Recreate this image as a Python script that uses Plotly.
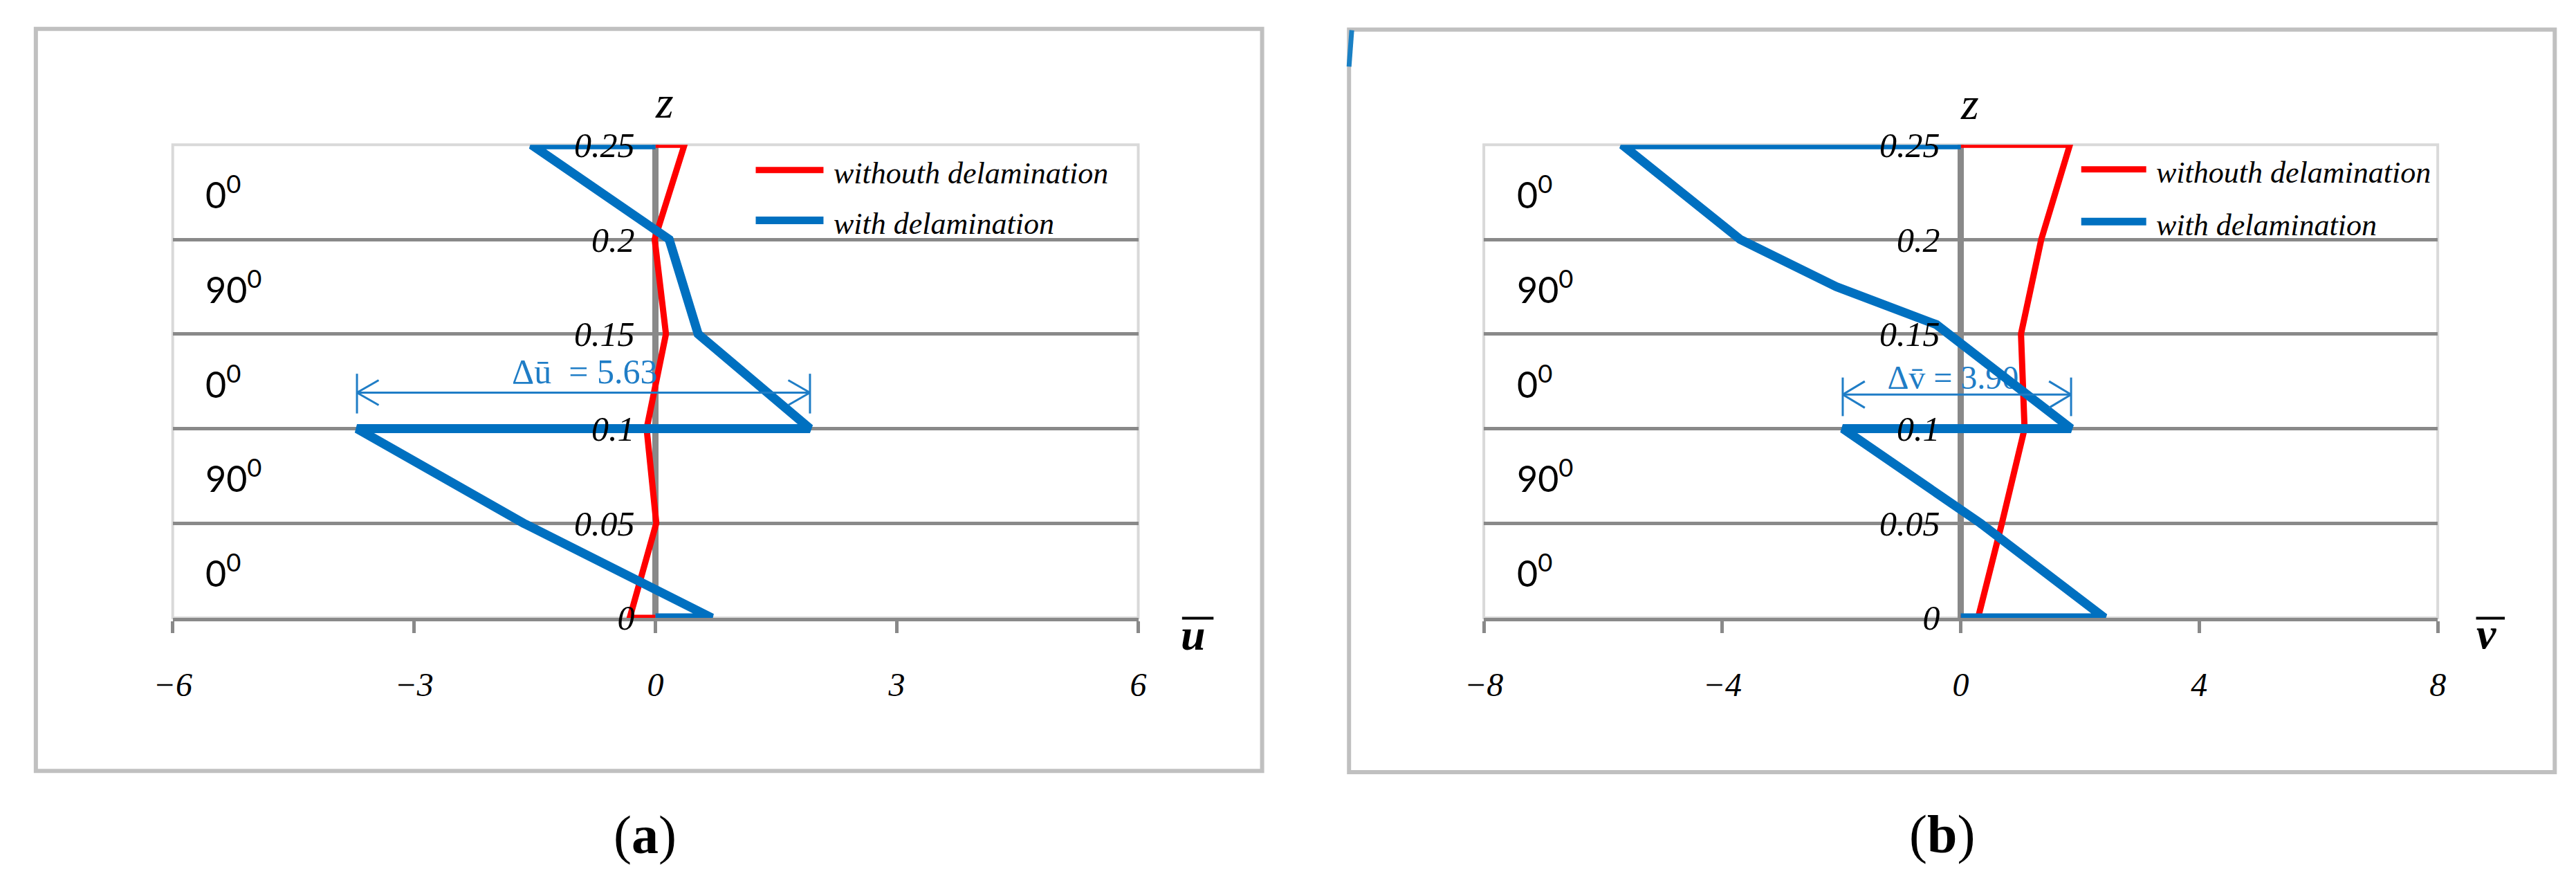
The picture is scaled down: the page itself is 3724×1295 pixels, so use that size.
import plotly.graph_objects as go

W, H = 3724, 1295
PAGE_MARGIN = 8  # default body margin of the html page

# ---------------- data ----------------
z_levels = [0, 0.05, 0.1, 0.15, 0.2, 0.25]
ply_angles = ["0", "90", "0", "90", "0"]          # bottom ply -> top ply
series_names = ["withouth delamination", "with delamination"]

# panel (a): u-bar through thickness
u_wo_z = [0, 0, 0.05, 0.1, 0.15, 0.2, 0.25, 0.25]
u_wo = [0, -0.32, 0.01, -0.11, 0.13, -0.01, 0.36, 0]
u_w_z = [0, 0, 0.05, 0.1, 0.1, 0.15, 0.2, 0.25, 0.25]
u_w = [0, 0.70, -1.64, -3.71, 1.92, 0.53, 0.17, -1.54, 0]

# panel (b): v-bar through thickness
v_wo_z = [0, 0, 0.05, 0.1, 0.15, 0.2, 0.25, 0.25]
v_wo = [0, 0.29, 0.69, 1.07, 1.01, 1.35, 1.83, 0]
v_w_z = [0, 0, 0.05, 0.1, 0.1, 0.15, 0.155, 0.175, 0.2, 0.25, 0.25]
v_w = [0, 2.41, 0.33, -1.98, 1.85, -0.19, -0.41, -2.09, -3.70, -5.68, 0]

u_ticks = [-6, -3, 0, 3, 6]
v_ticks = [-8, -4, 0, 4, 8]
z_ticks = [0, 0.05, 0.1, 0.15, 0.2, 0.25]
z_ticktext = ["0", "0.05", "0.1", "0.15", "0.2", "0.25"]
delta_u_text = "Δū  = 5.63"
delta_v_text = "Δv\u0304 = 3.90"

# ---------------- style ----------------
RED = "#FF0000"
BLUE = "#0070C0"
ABLUE = "#1F7DC6"
GRID = "#898989"
SERIF = "Liberation Serif"
SANS = "Lato"


def px(x):
    return (x - PAGE_MARGIN) / W


def py(y):
    return 1 - (y - PAGE_MARGIN) / H


XA = [px(224), px(1635)]
XB = [px(2140), px(3534)]
YD = [py(904), py(190)]


def tick_text(v):
    return ("\u2212" + str(abs(v))) if v < 0 else str(v)


fig = go.Figure()

# panel a traces
fig.add_trace(go.Scatter(x=u_wo, y=u_wo_z, mode="lines", name=series_names[0],
                         line=dict(color=RED, width=9), xaxis="x", yaxis="y",
                         showlegend=False, hoverinfo="skip"))
fig.add_trace(go.Scatter(x=[-0.88], y=[0.1285], mode="text", text=[delta_u_text],
                         textfont=dict(family=SERIF, size=50, color=ABLUE),
                         xaxis="x", yaxis="y", showlegend=False, hoverinfo="skip"))
fig.add_trace(go.Scatter(x=u_w, y=u_w_z, mode="lines", name=series_names[1],
                         line=dict(color=BLUE, width=13), xaxis="x", yaxis="y",
                         showlegend=False, hoverinfo="skip"))

# panel b traces
fig.add_trace(go.Scatter(x=v_wo, y=v_wo_z, mode="lines", name=series_names[0],
                         line=dict(color=RED, width=9), xaxis="x2", yaxis="y2",
                         showlegend=False, hoverinfo="skip"))
fig.add_trace(go.Scatter(x=[-0.13], y=[0.1255], mode="text", text=[delta_v_text],
                         textfont=dict(family=SERIF, size=48, color=ABLUE),
                         xaxis="x2", yaxis="y2", showlegend=False, hoverinfo="skip"))
fig.add_trace(go.Scatter(x=v_w, y=v_w_z, mode="lines", name=series_names[1],
                         line=dict(color=BLUE, width=13), xaxis="x2", yaxis="y2",
                         showlegend=False, hoverinfo="skip"))


def xaxis_cfg(domain, rng, ticks, anchor):
    return dict(domain=domain, range=rng, anchor=anchor,
                tickmode="array", tickvals=ticks, ticktext=[tick_text(t) for t in ticks],
                showgrid=False, zeroline=True, zerolinecolor=GRID, zerolinewidth=9,
                showline=True, linecolor=GRID, linewidth=5,
                ticks="outside", ticklen=17, tickwidth=5, tickcolor=GRID,
                tickfont=dict(family=SERIF, size=48, color="black", style="italic"),
                ticklabelstandoff=33, fixedrange=True)


def yaxis_cfg(position):
    return dict(domain=YD, range=[0, 0.25], anchor="free", position=position, side="left",
                tickmode="array", tickvals=z_ticks, ticktext=z_ticktext,
                showgrid=False, zeroline=False, showline=False, ticks="",
                ticklabelstandoff=30,
                tickfont=dict(family=SERIF, size=50, color="black", style="italic"),
                minor=dict(tickmode="array", tickvals=z_ticks[1:-1], showgrid=True,
                           gridcolor=GRID, gridwidth=5),
                fixedrange=True)


zero_a = XA[0] + (0 - (-6)) / 12 * (XA[1] - XA[0])
zero_b = XB[0] + (0 - (-8)) / 16 * (XB[1] - XB[0])

shapes = []
annotations = []

# outer panel frames
for (x0, y0, x1, y1) in [(24, 15, 1816, 1135), (1943, 16, 3705, 1137)]:
    shapes.append(dict(type="rect", xref="paper", yref="paper", x0=px(x0), x1=px(x1),
                       y0=py(y1), y1=py(y0), line=dict(color="#C0C0C0", width=6),
                       layer="below"))
# stray blue tick at top-left of panel b
shapes.append(dict(type="line", xref="paper", yref="paper", x0=px(1947), y0=py(17),
                   x1=px(1943), y1=py(72), line=dict(color="#1A80C4", width=7)))

# plot area borders (light)
for xr, yr in [("x", "y"), ("x2", "y2")]:
    shapes.append(dict(type="rect", xref=xr + " domain", yref=yr + " domain",
                       x0=0, x1=1, y0=0, y1=1, line=dict(color="#D9D9D9", width=4),
                       layer="below"))


def delta_arrow(xr, yr, xl, xrt, ya, ylo, yhi, dx, dy):
    ln = dict(color=ABLUE, width=3)
    out = [dict(type="line", xref=xr, yref=yr, x0=xl, x1=xrt, y0=ya, y1=ya, line=ln),
           dict(type="line", xref=xr, yref=yr, x0=xl, x1=xl, y0=ylo, y1=yhi, line=ln),
           dict(type="line", xref=xr, yref=yr, x0=xrt, x1=xrt, y0=ylo, y1=yhi, line=ln)]
    for s in (1, -1):
        out.append(dict(type="line", xref=xr, yref=yr, x0=xl, y0=ya, x1=xl + dx,
                        y1=ya + s * dy, line=ln))
        out.append(dict(type="line", xref=xr, yref=yr, x0=xrt, y0=ya, x1=xrt - dx,
                        y1=ya + s * dy, line=ln))
    return out


shapes += delta_arrow("x", "y", u_w[3], u_w[4], 0.119, 0.108, 0.129, 0.27, 0.0066)
shapes += delta_arrow("x2", "y2", v_w[3], v_w[4], 0.118, 0.1066, 0.127, 0.37, 0.007)

# ply labels
for i, ang in enumerate(ply_angles):
    zc = (z_levels[i] + z_levels[i + 1]) / 2
    for xpos, yr in [(270, "y"), (2186, "y2")]:
        annotations.append(dict(text=ang + "<sup>0</sup>", xref="paper", yref=yr,
                                x=px(xpos), y=zc, xanchor="left", yanchor="middle",
                                showarrow=False,
                                font=dict(family=SANS, size=52, color="black")))

# z labels
for xpos, ypos in [(943, 126), (2850, 128)]:
    annotations.append(dict(text="z", xref="paper", yref="paper", x=px(xpos), y=py(ypos),
                            showarrow=False, xanchor="center", yanchor="middle",
                            font=dict(family=SERIF, size=66, color="black", style="italic")))

# axis titles u-bar / v-bar
for letter, xc, yc, bx0, bx1 in [("u", 1715, 930, 1699, 1745), ("v", 3605, 928, 3590, 3632)]:
    annotations.append(dict(text="<b><i>" + letter + "</i></b>", xref="paper", yref="paper",
                            x=px(xc), y=py(yc), showarrow=False, xanchor="center",
                            yanchor="middle", font=dict(family=SERIF, size=64, color="black")))
    shapes.append(dict(type="line", xref="paper", yref="paper", x0=px(bx0), x1=px(bx1),
                       y0=py(904.5), y1=py(904.5), line=dict(color="black", width=4)))

# manual legends
for (lx0, lx1, tx, yr_, yb_) in [(1076, 1175, 1188, 228, 304), (3013, 3108, 3120, 227, 306)]:
    for name, col, w, yl in [(series_names[0], RED, 9, yr_), (series_names[1], BLUE, 11, yb_)]:
        shapes.append(dict(type="line", xref="paper", yref="paper", x0=px(lx0), x1=px(lx1),
                           y0=py(yl), y1=py(yl), line=dict(color=col, width=w)))
        annotations.append(dict(text=name, xref="paper", yref="paper", x=px(tx),
                                y=py(yl + 5), xanchor="left", yanchor="middle",
                                showarrow=False,
                                font=dict(family=SERIF, size=44, color="black",
                                          style="italic")))

# panel captions
for lab, xc, yc in [("a", 914, 1231), ("b", 2810, 1230)]:
    annotations.append(dict(text="(<b>" + lab + "</b>)", xref="paper", yref="paper",
                            x=px(xc), y=py(yc), showarrow=False, xanchor="center",
                            yanchor="middle", font=dict(family=SERIF, size=78, color="black")))

fig.update_layout(
    width=W, height=H,
    margin=dict(l=0, r=0, t=0, b=0),
    paper_bgcolor="white", plot_bgcolor="white",
    showlegend=False,
    xaxis=xaxis_cfg(XA, [-6, 6], u_ticks, "y"),
    yaxis=yaxis_cfg(zero_a),
    xaxis2=xaxis_cfg(XB, [-8, 8], v_ticks, "y2"),
    yaxis2=yaxis_cfg(zero_b),
    shapes=shapes,
    annotations=annotations,
)

fig.write_html("out.html")
